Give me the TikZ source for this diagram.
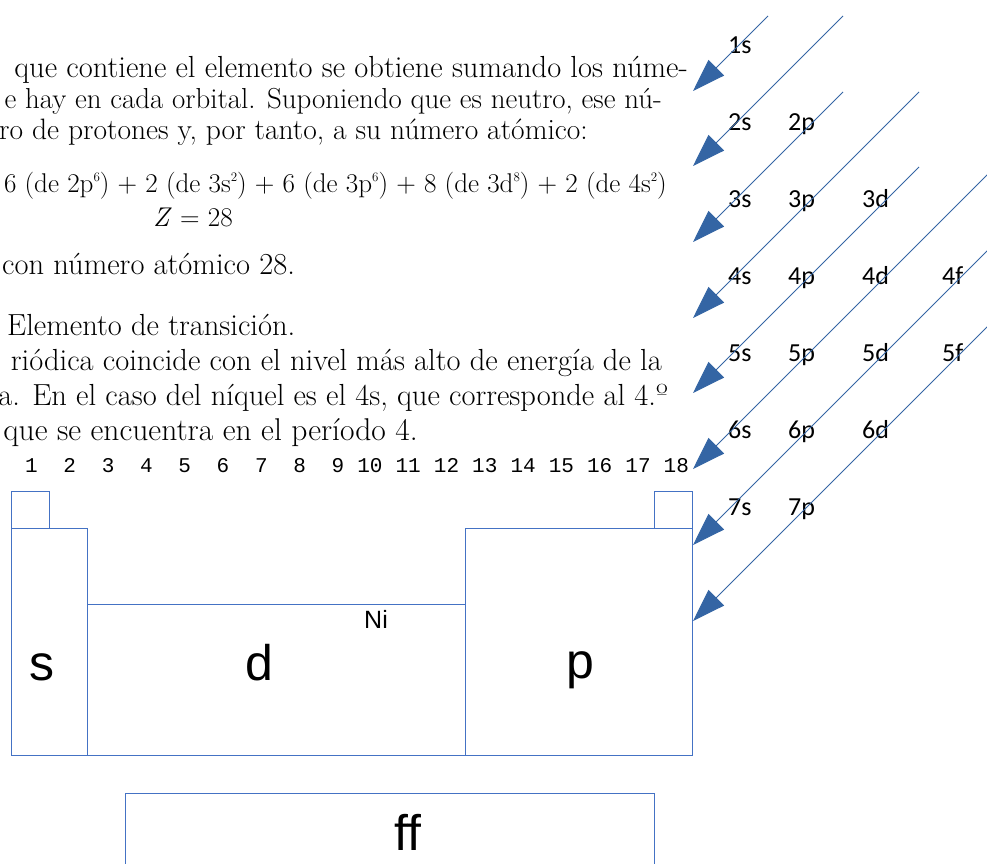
\documentclass[tikz,border=0pt]{standalone}
\usepackage{fontspec}
\newfontfamily\orbfont{Carlito}
\newfontfamily\blkfont{Liberation Sans}
\newfontfamily\numfont{Liberation Mono}
\usetikzlibrary{arrows.meta}
\definecolor{lineblue}{RGB}{52,101,164}
\definecolor{boxblue}{RGB}{68,114,196}
\newcommand{\sups}[1]{\raisebox{0.4em}{\fontsize{13}{13}\selectfont #1}}
\tikzset{
  txt/.style  = {inner sep=0pt, font=\fontsize{30.5}{34}\selectfont},
  eqn/.style  = {inner sep=0pt, font=\fontsize{27.1}{32}\selectfont},
  orb/.style  = {inner sep=0pt, anchor=base west,
                 font=\orbfont\fontsize{26}{30}\selectfont},
  num/.style  = {inner sep=0pt, anchor=base east,
                 font=\numfont\fontsize{21}{24}\selectfont},
  blk/.style  = {draw=boxblue, line width=0.9pt},
  lbl/.style  = {inner sep=0pt, anchor=base,
                 font=\blkfont\fontsize{50}{56}\selectfont},
  diag/.style = {draw=lineblue, line width=0.9pt,
                 -{Triangle[length=33pt, width=22pt]}},
}

\begin{document}
\begin{tikzpicture}[x=1pt, y=-1pt]
\useasboundingbox (0,0) rectangle (987,863);
\clip (0,0) rectangle (987,863);

% ────────────────────────────────────────────────────────────
%  Text on the left (cut at the left margin)
% ────────────────────────────────────────────────────────────
\node[txt, anchor=base east] (t1) at (688,77)
  {que contiene el elemento se obtiene sumando los núme-};
\node[txt, anchor=base east, font=\fontsize{28.9}{34}\selectfont] (t2) at (662,108)
  {e hay en cada orbital. Suponiendo que es neutro, ese nú-};
\node[txt, anchor=base east, font=\fontsize{29.5}{34}\selectfont] (t3) at (588,139)
  {ro de protones y, por tanto, a su número atómico:};
\node[eqn, anchor=base east] (eq1) at (667,192)
  {6 (de 2p\sups{6}) + 2 (de 3s\sups{2}) + 6 (de 3p\sups{6})
   + 8 (de 3d\sups{8}) + 2 (de 4s\sups{2})};
\node[eqn, anchor=base] (eq2) at (193,226) {\textit{Z} = 28};
\node[txt, anchor=base west] (t4) at (2,274) {con número atómico 28.};
\node[txt, anchor=base west] (t5) at (7,335) {Elemento de transición.};
\node[txt, anchor=base east] (t6) at (662,370)
  {riódica coincide con el nivel más alto de energía de la};
\node[txt, anchor=base east] (t7) at (668,405)
  {a. En el caso del níquel es el 4s, que corresponde al 4.º};
\node[txt, anchor=base east, font=\fontsize{31.5}{34}\selectfont] (t8) at (418,440)
  {que se encuentra en el período 4.};

% ────────────────────────────────────────────────────────────
%  Group numbers and blocks of the table
% ────────────────────────────────────────────────────────────
\foreach \n in {1,...,18}
  \node[num] (g\n) at ({38.3*\n-0.3},472) {\n};

\draw[blk] (11,491) rectangle (49,528);
\draw[blk] (654,491) rectangle (692,528);
\draw[blk] (11,528) rectangle (87,755);
\draw[blk] (87,604) rectangle (465,755);
\draw[blk] (465,528) rectangle (692,755);
\draw[blk] (125,793) rectangle (654,880);

\node[lbl] (bs) at (42,680) {s};
\node[lbl] (bd) at (259,680) {d};
\node[lbl] (bp) at (580,678) {p};
\node[lbl] (bf) at (408,850) {ff};
\node[lbl, font=\blkfont\fontsize{25}{28}\selectfont] (ni) at (376,628) {Ni};

% ────────────────────────────────────────────────────────────
%  Orbitals and filling order
% ────────────────────────────────────────────────────────────
\foreach \o/\x/\y in {1s/728/53, 2s/728/130, 2p/788/130,
                      3s/728/207, 3p/788/207, 3d/862/207,
                      4s/728/284, 4p/788/284, 4d/862/284, 4f/942/284,
                      5s/728/361, 5p/788/361, 5d/862/361, 5f/942/361,
                      6s/728/438, 6p/788/438, 6d/862/438,
                      7s/728/515, 7p/788/515}
  \node[orb] (o\o) at (\x,\y) {\o};

\foreach \i/\sx/\sy/\ty in {1/768/16/91, 2/843/16/166, 3/843/92/242,
                            4/919/92/318, 5/919/167/393, 6/995/167/469,
                            7/995/243/545, 8/995/319/621}{
  \coordinate (d\i-top) at (\sx,\sy);
  \coordinate (d\i-tip) at (693,\ty);
  \draw[diag] (d\i-top) -- (d\i-tip);
}

\end{tikzpicture}
\end{document}
